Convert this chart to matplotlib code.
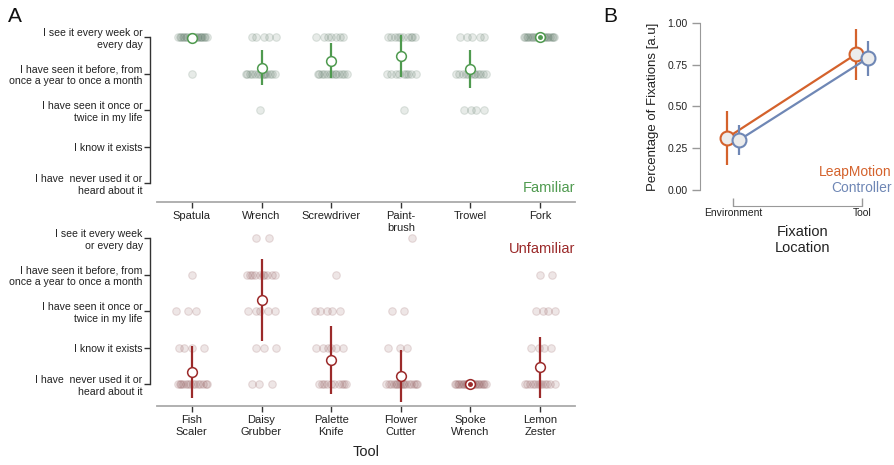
import numpy as np
import matplotlib
matplotlib.use("Agg")
import matplotlib.pyplot as plt

plt.rcParams['font.family'] = ['Liberation Sans', 'DejaVu Sans']

# ---------------- data ----------------
levels = [1, 2, 3, 4, 5]
fam_ylabels = ["I have  never used it or\nheard about it", "I know it exists",
               "I have seen it once or\ntwice in my life",
               "I have seen it before, from\nonce a year to once a month",
               "I see it every week or\nevery day"]
unf_ylabels = ["I have  never used it or\nheard about it", "I know it exists",
               "I have seen it once or\ntwice in my life",
               "I have seen it before, from\nonce a year to once a month",
               "I see it every week\nor every day"]

fam_tools = ["Spatula", "Wrench", "Screwdriver", "Paint-\nbrush", "Trowel", "Fork"]
# counts of responses per level [1,2,3,4,5]
fam_counts = [[0, 0, 0, 1, 19],
              [0, 0, 1, 14, 5],
              [0, 0, 0, 13, 7],
              [0, 0, 1, 9, 10],
              [0, 0, 4, 12, 5],
              [0, 0, 0, 0, 20]]
fam_mean = [4.97, 4.16, 4.36, 4.49, 4.14, 5.0]
fam_err = [0.14, 0.48, 0.49, 0.57, 0.52, 0.0]

unf_tools = ["Fish\nScaler", "Daisy\nGrubber", "Palette\nKnife", "Flower\nCutter",
             "Spoke\nWrench", "Lemon\nZester"]
unf_counts = [[14, 4, 3, 1, 0],
              [3, 3, 5, 10, 2],
              [10, 6, 5, 1, 0],
              [16, 3, 2, 0, 1],
              [22, 0, 0, 0, 0],
              [12, 4, 4, 2, 0]]
unf_mean = [1.33, 3.30, 1.66, 1.22, 1.0, 1.46]
unf_err = [0.71, 1.13, 0.93, 0.72, 0.0, 0.83]

locations = ["Environment", "Tool"]
leap_mean = [0.31, 0.81]
leap_lo = [0.15, 0.66]
leap_hi = [0.47, 0.96]
ctrl_mean = [0.30, 0.79]
ctrl_lo = [0.21, 0.68]
ctrl_hi = [0.39, 0.89]

# ---------------- figure ----------------
W, H = 895, 465
fig = plt.figure(figsize=(W / 100, H / 100), dpi=100)


def px_axes(l, t, r, b):
    a = fig.add_axes([l / W, 1 - b / H, (r - l) / W, (b - t) / H])
    a.patch.set_alpha(0)
    return a


def draw_panel(ax, tools, counts, means, errs, ylabels, col, dotcol, title, title_y):
    for i, cnts in enumerate(counts):
        for lv, n in zip(levels, cnts):
            if n == 0:
                continue
            k = np.arange(n)
            off = (((k * 0.618034 + 0.13 * lv + 0.07 * i) % 1.0) - 0.5) * 0.46
            ax.scatter(i + off, np.full(n, lv), s=30,
                       facecolor=(*dotcol, 0.13), edgecolor=(*dotcol, 0.16),
                       linewidth=0.8, zorder=2, clip_on=False)
    x = np.arange(len(tools))
    m = np.array(means)
    e = np.array(errs)
    ax.vlines(x, m - e, m + e, color=col, lw=1.6, zorder=3)
    ax.plot(x, m, 'o', ms=7, mfc='white', mec=col, mew=1.1, zorder=4, ls='none')
    z = e == 0
    ax.plot(x[z], m[z], 'o', ms=2.5, color=col, zorder=5, ls='none')

    ax.set_xlim(-0.5, len(tools) - 0.5)
    ax.tick_params(axis='y', length=4.5, width=1.0, color='#333333', pad=0.8,
                   labelsize=7.6, labelcolor='#222222')
    ax.tick_params(axis='x', length=4.5, width=1.0, color='#333333', pad=2,
                   labelsize=8, labelcolor='#222222')
    ax.set_xticks(x)
    ax.set_xticklabels(tools, linespacing=1.2)
    ax.set_yticks(levels)
    ax.set_yticklabels(ylabels, linespacing=1.2)
    for s in ['top', 'right']:
        ax.spines[s].set_visible(False)
    ax.spines['left'].set_position(('outward', 5))
    ax.spines['left'].set_bounds(1, 5)
    ax.spines['left'].set_color('#333333')
    ax.spines['left'].set_linewidth(1.0)
    ax.spines['bottom'].set_color('#aaaaaa')
    ax.spines['bottom'].set_linewidth(1.3)
    ax.text(1.0, title_y, title, transform=ax.transAxes, ha='right', va='center',
            fontsize=10.5, color=col)


ax1 = px_axes(157, 19, 575, 202)
ax1.set_ylim(0.48, 5.5)
draw_panel(ax1, fam_tools, fam_counts, fam_mean, fam_err, fam_ylabels,
           '#4f9a4f', (0.28, 0.40, 0.32), 'Familiar', 0.076)

ax2 = px_axes(157, 220, 575, 406)
ax2.set_ylim(0.4, 5.5)
draw_panel(ax2, unf_tools, unf_counts, unf_mean, unf_err, unf_ylabels,
           '#9b2a2a', (0.50, 0.25, 0.26), 'Unfamiliar', 0.845)
ax2.set_xlabel('Tool', fontsize=10.5, labelpad=6, color='#222222')

# ---------------- panel B ----------------
axb = px_axes(700, 22.7, 880, 190)
axb.set_xlim(-0.256, 1.14)
axb.set_ylim(0, 1)
xb = np.arange(len(locations))
orange = '#d4622c'
blue = '#6f87b5'
for dx, mean, lo, hi, c, z in [(-0.05, leap_mean, leap_lo, leap_hi, orange, 3),
                               (0.05, ctrl_mean, ctrl_lo, ctrl_hi, blue, 4)]:
    xx = xb + dx
    axb.vlines(xx, lo, hi, color=c, lw=1.6, zorder=z, clip_on=False)
    axb.plot(xx, mean, '-', color=c, lw=1.6, zorder=z, clip_on=False)
    axb.plot(xx, mean, 'o', ms=10, mfc='#ececec', mec=c, mew=1.5, zorder=z + 0.5,
             clip_on=False, ls='none')

axb.tick_params(axis='y', length=6, width=1, color='#999999', pad=3,
                labelsize=7.5, labelcolor='#222222')
axb.tick_params(axis='x', direction='in', length=6, width=1, color='#999999', pad=1.5,
                labelsize=7.5, labelcolor='#222222')
axb.set_xticks(xb)
axb.set_xticklabels(locations)
axb.set_yticks([0, 0.25, 0.5, 0.75, 1.0])
axb.set_yticklabels(['0.00', '0.25', '0.50', '0.75', '1.00'])
for s in ['top', 'right']:
    axb.spines[s].set_visible(False)
axb.spines['left'].set_bounds(0, 1)
axb.spines['left'].set_color('#999999')
axb.spines['bottom'].set_position(('outward', 11.5))
axb.spines['bottom'].set_bounds(0, 1)
axb.spines['bottom'].set_color('#999999')
axb.set_ylabel('Percentage of Fixations [a.u]', fontsize=9.5, color='#222222', labelpad=6)
axb.set_xlabel('Fixation\nLocation', fontsize=10.5, color='#222222', linespacing=1.15)
axb.xaxis.set_label_coords((803 - 700) / 180, -(225 - 190) / 167.3)
axb.text(892 / W, 1 - 172 / H, 'LeapMotion', transform=fig.transFigure, ha='right',
         va='center', fontsize=10, color=orange)
axb.text(892 / W, 1 - 188 / H, 'Controller', transform=fig.transFigure, ha='right',
         va='center', fontsize=10, color=blue)

fig.text(8 / W, 1 - 17 / H, 'A', fontsize=15, ha='left', va='center', color='#111111')
fig.text(603 / W, 1 - 17 / H, 'B', fontsize=15, ha='left', va='center', color='#111111')

fig.savefig('out.png', dpi=100)
